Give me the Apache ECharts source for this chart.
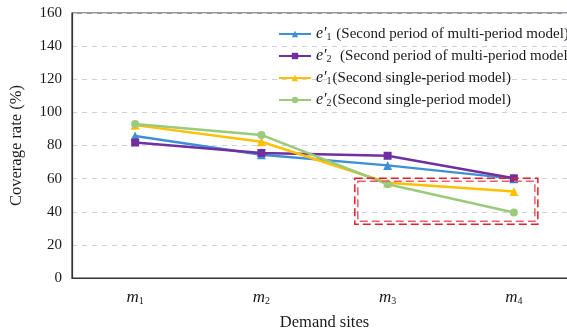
<!DOCTYPE html>
<html>
<head>
<meta charset="utf-8">
<script src="https://cdn.jsdelivr.net/npm/echarts@6/dist/echarts.min.js"></script>
<style>
  html, body { margin: 0; padding: 0; background: #fff; }
  #chart { width: 567px; height: 336px; }
</style>
</head>
<body>
<div id="chart"></div>
<script>
// Demand sites and their subscripts
const sites = ["m1", "m2", "m3", "m4"];

// Coverage rate (%) per demand site
const multiE1 = [85.7, 74.4, 68.0, 60.0];   // e'1, second period of multi-period model
const multiE2 = [81.8, 75.5, 73.8, 60.2];   // e'2, second period of multi-period model
const singleE1 = [92.3, 82.3, 57.5, 52.3];  // e'1, second single-period model
const singleE2 = [93.0, 86.4, 56.6, 39.5];  // e'2, second single-period model

// Legend entries: [symbol, subscript, description]
const legendParts = [
  ["e′", "1", " (Second period of multi-period model)"],
  ["e′", "2", "  (Second period of multi-period model)"],
  ["e′", "1", "(Second single-period model)"],
  ["e′", "2", "(Second single-period model)"]
];
const seriesNames = legendParts.map(p => p.join(""));

const yTicks = { min: 0, max: 160, interval: 20 };

const FONT = "'Liberation Serif', 'Times New Roman', serif";
const TEXT = "#1a1a1a";

const chart = echarts.init(document.getElementById("chart"), null, { renderer: "canvas" });

function lineSeries(name, data, color, symbol, size) {
  return {
    name, type: "line", data,
    symbol, symbolSize: size,
    lineStyle: { color, width: 2.5 },
    itemStyle: { color },
    z: 3
  };
}

chart.setOption({
  animation: false,
  backgroundColor: "#fff",
  textStyle: { fontFamily: FONT },
  grid: {
    left: 72, top: 13, width: 505, height: 265,
    outerBoundsMode: "none",
    containLabel: false,
    show: true, borderColor: "#333", borderWidth: 1.2,
    backgroundColor: "transparent"
  },
  legend: {
    orient: "vertical",
    left: 273, top: 21,
    itemWidth: 32, itemHeight: 8, itemGap: 6,
    data: seriesNames,
    formatter: name => {
      const p = legendParts[seriesNames.indexOf(name)];
      return "{e|" + p[0] + "}{s|" + p[1] + "}{t|" + p[2] + "}";
    },
    textStyle: {
      color: TEXT,
      fontFamily: FONT,
      fontSize: 15,
      rich: {
        e: { fontFamily: FONT, fontStyle: "italic", fontSize: 16, color: TEXT, lineHeight: 16 },
        s: { fontFamily: FONT, fontSize: 10, color: TEXT, verticalAlign: "bottom", padding: [6, 1, 0, 0], lineHeight: 16 },
        t: { fontFamily: FONT, fontSize: 15, color: TEXT, lineHeight: 16 }
      }
    }
  },
  xAxis: {
    type: "category",
    data: sites,
    boundaryGap: true,
    name: "Demand sites",
    nameLocation: "middle",
    nameGap: 36,
    nameTextStyle: { fontFamily: FONT, fontSize: 16.5, color: TEXT },
    axisLine: { lineStyle: { color: "#333", width: 1.2 } },
    axisTick: { show: false },
    axisLabel: {
      margin: 11,
      formatter: v => "{m|" + v[0] + "}{s|" + v.slice(1) + "}",
      rich: {
        m: { fontFamily: FONT, fontStyle: "italic", fontSize: 17, color: TEXT },
        s: { fontFamily: FONT, fontSize: 10, color: TEXT, verticalAlign: "bottom", padding: [5, 0, 0, 0] }
      }
    },
    splitLine: { show: false }
  },
  yAxis: {
    type: "value",
    min: yTicks.min, max: yTicks.max, interval: yTicks.interval,
    name: "Coverage rate (%)",
    nameLocation: "middle",
    nameGap: 47,
    nameTextStyle: { fontFamily: FONT, fontSize: 16.5, color: TEXT },
    axisLine: { show: true, lineStyle: { color: "#333", width: 1.2 } },
    axisTick: { show: false },
    axisLabel: { fontFamily: FONT, fontSize: 15, color: TEXT, margin: 10 },
    splitLine: { lineStyle: { color: "#CDD1E4", width: 1, type: [5, 5] } }
  },
  series: [
    lineSeries(seriesNames[0], multiE1, "#3F8FD6", "triangle", 9),
    lineSeries(seriesNames[1], multiE2, "#7030A0", "rect", 8),
    lineSeries(seriesNames[2], singleE1, "#FFC000", "triangle", 9),
    lineSeries(seriesNames[3], singleE2, "#9CC97C", "circle", 8)
  ]
});

// Highlight box around the m3–m4 region, placed in data units
const box = { fromSite: "m3", toSite: "m4", padBefore: 0.26, padAfter: 0.19, yTop: 60.2, yBottom: 32.5 };
function drawBox() {
  const x3 = chart.convertToPixel({ xAxisIndex: 0 }, box.fromSite);
  const x4 = chart.convertToPixel({ xAxisIndex: 0 }, box.toSite);
  const step = x4 - x3;
  const x0 = x3 - box.padBefore * step;
  const x1 = x4 + box.padAfter * step;
  const y0 = chart.convertToPixel({ yAxisIndex: 0 }, box.yTop);
  const y1 = chart.convertToPixel({ yAxisIndex: 0 }, box.yBottom);
  const dash = { stroke: "#E0202C", lineWidth: 1.5, lineDash: [8, 4], fill: null };
  chart.setOption({
    graphic: [
      { type: "rect", z: 10, shape: { x: x0, y: y0, width: x1 - x0, height: y1 - y0 }, style: Object.assign({}, dash) },
      { type: "rect", z: 10, shape: { x: x0 + 3, y: y0 + 3, width: x1 - x0 - 6, height: y1 - y0 - 6 },
        style: Object.assign({}, dash, { stroke: "#E86068" }) }
    ]
  });
}
drawBox();
</script>
</body>
</html>
